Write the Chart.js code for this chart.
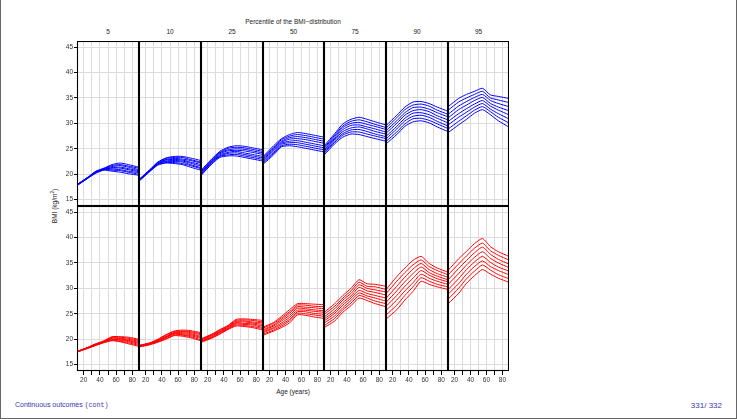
<!DOCTYPE html>
<html>
<head>
<meta charset="utf-8">
<script src="https://cdn.jsdelivr.net/npm/chart.js@4.4.1/dist/chart.umd.min.js"></script>
<style>
  html, body { margin: 0; padding: 0; background: #fff; }
  #slide { position: relative; width: 737px; height: 419px; overflow: hidden; box-sizing: border-box;
           border-left: 1px solid #666; border-bottom: 1px solid #666; border-right: 1px solid #666;
           font-family: "Liberation Sans", Arial, sans-serif; color: #222; }
  #slide canvas { position: absolute; }
  .txt { position: absolute; white-space: nowrap; line-height: 1; font-size: 6.5px; }
  .foot { position: absolute; top: 401px; font-size: 7px; color: #3838b0; white-space: nowrap; }
  .mono { font-family: "Liberation Mono", "DejaVu Sans Mono", monospace; font-size: 6.6px; }
</style>
</head>
<body>
<div id="slide"></div>
<script>
const ages = [12, 25, 35, 45, 55, 65, 75, 88];
const percentiles = ['5', '10', '25', '50', '75', '90', '95'];
const bmiTicks = [15, 20, 25, 30, 35, 40, 45];
const ageTicks = [20, 30, 40, 50, 60, 70, 80];
const ageLabels = [20, 40, 60, 80];

// top row (blue), one line per cohort, values at the ages above
const blueP5 = [
    [17.8, 19.2, 20.2, 20.8, 20.6, 20.4, 20.1, 19.8],
    [17.8, 19.2, 20.3, 20.9, 20.8, 20.7, 20.4, 20.0],
    [17.9, 19.3, 20.3, 20.9, 21.0, 20.9, 20.6, 20.3],
    [17.9, 19.3, 20.4, 21.0, 21.2, 21.2, 20.9, 20.5],
    [17.9, 19.3, 20.4, 21.0, 21.3, 21.4, 21.1, 20.7],
    [17.9, 19.3, 20.5, 21.1, 21.5, 21.7, 21.4, 20.9],
    [18.0, 19.4, 20.5, 21.1, 21.7, 21.9, 21.6, 21.2],
    [18.0, 19.4, 20.6, 21.2, 21.9, 22.2, 21.9, 21.4]
];
const blueP10 = [
    [18.7, 20.5, 21.8, 22.2, 22.1, 21.9, 21.4, 20.8],
    [18.7, 20.6, 21.9, 22.3, 22.3, 22.1, 21.7, 21.1],
    [18.8, 20.6, 22.0, 22.5, 22.5, 22.4, 21.9, 21.3],
    [18.8, 20.7, 22.1, 22.6, 22.7, 22.6, 22.2, 21.6],
    [18.9, 20.7, 22.1, 22.8, 22.9, 22.8, 22.4, 21.9],
    [18.9, 20.8, 22.2, 22.9, 23.1, 23.0, 22.7, 22.2],
    [19.0, 20.8, 22.3, 23.1, 23.3, 23.3, 22.9, 22.4],
    [19.0, 20.9, 22.4, 23.2, 23.5, 23.5, 23.2, 22.7]
];
const blueP25 = [
    [19.8, 22.0, 23.3, 23.6, 23.6, 23.3, 23.0, 22.6],
    [19.9, 22.1, 23.5, 23.8, 23.9, 23.6, 23.3, 22.9],
    [20.1, 22.3, 23.6, 24.1, 24.2, 23.9, 23.6, 23.2],
    [20.2, 22.4, 23.8, 24.3, 24.5, 24.2, 23.9, 23.5],
    [20.4, 22.6, 24.0, 24.6, 24.7, 24.6, 24.3, 23.9],
    [20.5, 22.7, 24.2, 24.8, 25.0, 24.9, 24.6, 24.2],
    [20.7, 22.9, 24.3, 25.1, 25.3, 25.2, 24.9, 24.5],
    [20.8, 23.0, 24.5, 25.3, 25.6, 25.5, 25.2, 24.8]
];
const blueP50 = [
    [22.0, 23.8, 25.4, 25.6, 25.4, 25.1, 24.8, 24.4],
    [22.2, 24.1, 25.6, 25.9, 25.8, 25.5, 25.2, 24.8],
    [22.4, 24.3, 25.9, 26.2, 26.2, 25.9, 25.6, 25.2],
    [22.6, 24.6, 26.1, 26.5, 26.6, 26.3, 26.0, 25.6],
    [22.9, 24.8, 26.3, 26.9, 27.0, 26.8, 26.5, 26.1],
    [23.1, 25.1, 26.5, 27.2, 27.4, 27.2, 26.9, 26.5],
    [23.3, 25.3, 26.8, 27.5, 27.8, 27.6, 27.3, 26.9],
    [23.5, 25.6, 27.0, 27.8, 28.2, 28.0, 27.7, 27.3]
];
const blueP75 = [
    [23.8, 26.0, 27.3, 27.9, 27.8, 27.4, 27.0, 26.5],
    [24.1, 26.3, 27.7, 28.3, 28.3, 27.9, 27.5, 27.0],
    [24.3, 26.6, 28.0, 28.7, 28.8, 28.4, 27.9, 27.4],
    [24.6, 26.9, 28.4, 29.1, 29.3, 28.9, 28.4, 27.9],
    [24.8, 27.1, 28.8, 29.6, 29.7, 29.3, 28.9, 28.3],
    [25.1, 27.4, 29.2, 30.0, 30.2, 29.8, 29.4, 28.8],
    [25.3, 27.7, 29.5, 30.4, 30.7, 30.3, 29.8, 29.2],
    [25.6, 28.0, 29.9, 30.8, 31.2, 30.8, 30.3, 29.7]
];
const blueP90 = [
    [26.0, 27.8, 29.4, 30.3, 30.5, 30.1, 29.3, 28.4],
    [26.5, 28.3, 29.9, 30.9, 31.0, 30.6, 29.9, 29.0],
    [27.0, 28.9, 30.5, 31.4, 31.6, 31.2, 30.4, 29.5],
    [27.5, 29.4, 31.0, 32.0, 32.1, 31.7, 31.0, 30.1],
    [28.1, 30.0, 31.6, 32.5, 32.7, 32.3, 31.5, 30.7],
    [28.6, 30.5, 32.1, 33.1, 33.2, 32.8, 32.1, 31.3],
    [29.1, 31.1, 32.7, 33.6, 33.8, 33.4, 32.6, 31.8],
    [29.6, 31.6, 33.2, 34.2, 34.3, 33.9, 33.2, 32.4]
];
const blueP95 = [
    [28.2, 29.7, 30.8, 32.0, 32.7, 31.7, 30.5, 29.3],
    [28.9, 30.4, 31.5, 32.6, 33.3, 32.3, 31.2, 30.1],
    [29.7, 31.2, 32.2, 33.2, 33.9, 32.8, 31.9, 30.9],
    [30.4, 31.9, 32.9, 33.8, 34.5, 33.4, 32.6, 31.7],
    [31.1, 32.7, 33.6, 34.5, 35.1, 33.9, 33.2, 32.5],
    [31.8, 33.4, 34.3, 35.1, 35.7, 34.5, 33.9, 33.3],
    [32.6, 34.2, 35.0, 35.7, 36.3, 35.0, 34.6, 34.1],
    [33.3, 34.9, 35.7, 36.3, 36.9, 35.6, 35.3, 34.9]
];

// bottom row (red)
const redP5 = [
    [17.5, 18.2, 18.8, 19.3, 19.7, 19.5, 19.1, 18.6],
    [17.5, 18.2, 18.8, 19.4, 19.8, 19.6, 19.3, 18.8],
    [17.5, 18.3, 18.9, 19.4, 19.9, 19.8, 19.5, 19.0],
    [17.5, 18.3, 18.9, 19.5, 20.0, 19.9, 19.7, 19.2],
    [17.6, 18.3, 19.0, 19.5, 20.2, 20.1, 19.8, 19.4],
    [17.6, 18.3, 19.0, 19.6, 20.3, 20.2, 20.0, 19.6],
    [17.6, 18.4, 19.1, 19.6, 20.4, 20.4, 20.2, 19.8],
    [17.6, 18.4, 19.1, 19.7, 20.5, 20.5, 20.4, 20.0]
];
const redP10 = [
    [18.5, 18.9, 19.4, 20.0, 20.7, 20.6, 20.3, 19.7],
    [18.5, 19.0, 19.5, 20.1, 20.8, 20.8, 20.5, 19.9],
    [18.6, 19.0, 19.6, 20.3, 21.0, 20.9, 20.7, 20.2],
    [18.6, 19.1, 19.7, 20.4, 21.1, 21.1, 20.9, 20.4],
    [18.7, 19.1, 19.7, 20.5, 21.2, 21.3, 21.1, 20.6],
    [18.7, 19.2, 19.8, 20.6, 21.3, 21.5, 21.3, 20.9],
    [18.8, 19.2, 19.9, 20.8, 21.5, 21.6, 21.5, 21.1],
    [18.8, 19.3, 20.0, 20.9, 21.6, 21.8, 21.7, 21.3]
];
const redP25 = [
    [19.4, 20.2, 21.0, 21.9, 22.6, 22.5, 22.3, 21.8],
    [19.5, 20.3, 21.1, 22.0, 22.8, 22.7, 22.5, 22.1],
    [19.6, 20.4, 21.3, 22.1, 23.0, 22.9, 22.8, 22.3],
    [19.7, 20.5, 21.4, 22.2, 23.2, 23.1, 23.0, 22.6],
    [19.8, 20.7, 21.5, 22.4, 23.3, 23.4, 23.2, 22.9],
    [19.9, 20.8, 21.6, 22.5, 23.5, 23.6, 23.4, 23.2],
    [20.0, 20.9, 21.8, 22.6, 23.7, 23.8, 23.7, 23.4],
    [20.1, 21.0, 21.9, 22.7, 23.9, 24.0, 23.9, 23.7]
];
const redP50 = [
    [20.8, 21.6, 22.3, 23.2, 24.8, 24.7, 24.4, 24.1],
    [21.0, 21.8, 22.6, 23.6, 25.1, 25.0, 24.8, 24.5],
    [21.3, 22.1, 22.9, 23.9, 25.4, 25.4, 25.1, 24.9],
    [21.5, 22.3, 23.2, 24.3, 25.7, 25.7, 25.5, 25.3],
    [21.7, 22.6, 23.6, 24.7, 26.1, 26.0, 25.8, 25.6],
    [21.9, 22.8, 23.9, 25.1, 26.4, 26.3, 26.2, 26.0],
    [22.2, 23.1, 24.2, 25.4, 26.7, 26.7, 26.5, 26.4],
    [22.4, 23.3, 24.5, 25.8, 27.0, 27.0, 26.9, 26.8]
];
const redP75 = [
    [22.3, 23.6, 25.3, 26.6, 28.1, 27.6, 27.0, 26.4],
    [22.7, 24.1, 25.8, 27.1, 28.6, 28.1, 27.5, 27.0],
    [23.2, 24.6, 26.2, 27.6, 29.1, 28.5, 28.1, 27.5],
    [23.6, 25.1, 26.7, 28.1, 29.6, 29.0, 28.6, 28.1],
    [24.0, 25.5, 27.2, 28.5, 30.2, 29.5, 29.2, 28.7],
    [24.4, 26.0, 27.7, 29.0, 30.7, 30.0, 29.7, 29.3],
    [24.9, 26.5, 28.1, 29.5, 31.2, 30.4, 30.3, 29.8],
    [25.3, 27.0, 28.6, 30.0, 31.7, 30.9, 30.8, 30.4]
];
const redP90 = [
    [24.0, 25.8, 27.7, 29.4, 31.4, 30.8, 30.3, 29.8],
    [24.8, 26.7, 28.6, 30.3, 32.1, 31.4, 30.8, 30.3],
    [25.7, 27.7, 29.5, 31.1, 32.8, 32.0, 31.4, 30.8],
    [26.5, 28.6, 30.4, 32.0, 33.5, 32.6, 31.9, 31.3],
    [27.3, 29.5, 31.3, 32.9, 34.2, 33.1, 32.4, 31.7],
    [28.1, 30.4, 32.2, 33.8, 34.9, 33.7, 32.9, 32.2],
    [29.0, 31.4, 33.1, 34.6, 35.6, 34.3, 33.5, 32.7],
    [29.8, 32.3, 34.0, 35.5, 36.3, 34.9, 34.0, 33.2]
];
const redP95 = [
    [27.0, 29.0, 31.0, 32.5, 33.7, 32.8, 32.0, 31.2],
    [27.9, 30.0, 31.9, 33.4, 34.6, 33.6, 32.7, 31.9],
    [28.9, 30.9, 32.8, 34.3, 35.4, 34.3, 33.5, 32.7],
    [29.8, 31.9, 33.7, 35.2, 36.3, 35.1, 34.2, 33.4],
    [30.8, 32.9, 34.6, 36.1, 37.2, 35.9, 35.0, 34.1],
    [31.7, 33.9, 35.5, 37.0, 38.1, 36.7, 35.7, 34.8],
    [32.7, 34.8, 36.4, 37.9, 38.9, 37.4, 36.5, 35.6],
    [33.6, 35.8, 37.3, 38.8, 39.8, 38.2, 37.2, 36.3]
];

const rows = [
    { color: 'rgb(0, 0, 255)', panels: [blueP5, blueP10, blueP25, blueP50, blueP75, blueP90, blueP95] },
    { color: 'rgb(255, 0, 0)', panels: [redP5, redP10, redP25, redP50, redP75, redP90, redP95] }
];

// layout of the lattice (page pixels)
const colLeft = [76, 138, 200, 262, 323, 385, 447];
const colWidth = [62, 62, 62, 61, 62, 62, 61];
const rowTop = [41, 206];
const panelH = 165;
const yAxisW = 16;
const xAxisH = 14;
const fontFamily = '"Liberation Sans", Arial, sans-serif';
const gridColor = '#dcdcdc';

const slide = document.getElementById('slide');

const framePlugin = {
    id: 'frame',
    afterDraw(chart) {
        const a = chart.chartArea, ctx = chart.ctx;
        ctx.save();
        ctx.strokeStyle = '#000';
        ctx.lineWidth = 1.1;
        ctx.strokeRect(a.left + 0.5, a.top + 0.5, a.right - a.left - 1, a.bottom - a.top - 1);
        ctx.restore();
    }
};

// keep every panel's plot area exactly the size of its box
function noPadding(s) {
    s.paddingTop = 0;
    s.paddingBottom = 0;
    s.paddingLeft = 0;
    s.paddingRight = 0;
}

function addText(html, cls, style) {
    const d = document.createElement('div');
    d.className = cls;
    d.innerHTML = html;
    Object.assign(d.style, style);
    slide.appendChild(d);
    return d;
}

function panelChart(r, c) {
    const hasY = c === 0, hasX = r === 1;
    const canvas = document.createElement('canvas');
    const w = colWidth[c] + (hasY ? yAxisW : 0);
    const h = panelH + (hasX ? xAxisH : 0);
    canvas.width = w;
    canvas.height = h;
    canvas.style.width = w + 'px';
    canvas.style.height = h + 'px';
    canvas.style.left = (colLeft[c] - (hasY ? yAxisW : 0)) + 'px';
    canvas.style.top = rowTop[r] + 'px';
    slide.appendChild(canvas);

    const color = rows[r].color;
    return new Chart(canvas, {
        type: 'line',
        data: {
            datasets: rows[r].panels[c].map(line => ({
                data: line.map((v, i) => ({ x: ages[i], y: v })),
                borderColor: color,
                borderWidth: 1,
                pointRadius: 0,
                tension: 0.2,
                fill: false
            }))
        },
        options: {
            responsive: false,
            animation: false,
            devicePixelRatio: 1,
            layout: { padding: 0, autoPadding: false },
            plugins: { legend: { display: false }, tooltip: { enabled: false } },
            scales: {
                x: {
                    type: 'linear',
                    min: 11.7,
                    max: 88.3,
                    afterBuildTicks: s => { s.ticks = ageTicks.map(v => ({ value: v })); },
                    afterFit: s => { s.height = hasX ? xAxisH : 0; noPadding(s); },
                    grid: { color: gridColor, drawTicks: hasX, tickColor: '#000', tickLength: 4 },
                    border: { display: false },
                    ticks: {
                        display: hasX,
                        autoSkip: false,
                        maxRotation: 0,
                        padding: 1,
                        color: '#333',
                        font: { size: 6.5, family: fontFamily },
                        callback: v => ageLabels.includes(v) ? String(v) : ''
                    }
                },
                y: {
                    min: 13.75,
                    max: 46.2,
                    afterBuildTicks: s => { s.ticks = bmiTicks.map(v => ({ value: v })); },
                    afterFit: s => { s.width = hasY ? yAxisW : 0; noPadding(s); },
                    grid: { color: gridColor, drawTicks: hasY, tickColor: '#000', tickLength: 3 },
                    border: { display: false },
                    ticks: {
                        display: hasY,
                        padding: 1,
                        color: '#333',
                        font: { size: 6.5, family: fontFamily }
                    }
                }
            }
        },
        plugins: [framePlugin]
    });
}

for (let r = 0; r < rows.length; r++) {
    for (let c = 0; c < percentiles.length; c++) {
        panelChart(r, c);
    }
}

// strip labels and titles
addText('Percentile of the BMI\u2212distribution', 'txt', { left: '292px', top: '19px', transform: 'translateX(-50%)' });
for (let c = 0; c < percentiles.length; c++) {
    addText(percentiles[c], 'txt', { left: (colLeft[c] + colWidth[c] / 2) + 'px', top: '29px', transform: 'translateX(-50%)' });
}
addText('Age (years)', 'txt', { left: '292px', top: '389px', transform: 'translateX(-50%)' });
addText('BMI (kg/m<sup style="font-size:4.5px">2</sup>)', 'txt', { left: '54px', top: '206px', transform: 'translate(-50%, -50%) rotate(-90deg)' });

addText('Continuous outcomes <span class="mono">(cont)</span>', 'foot', { left: '14px' });
addText('331/ 332', 'foot', { right: '14px', fontSize: '8px' });
</script>
</body>
</html>
